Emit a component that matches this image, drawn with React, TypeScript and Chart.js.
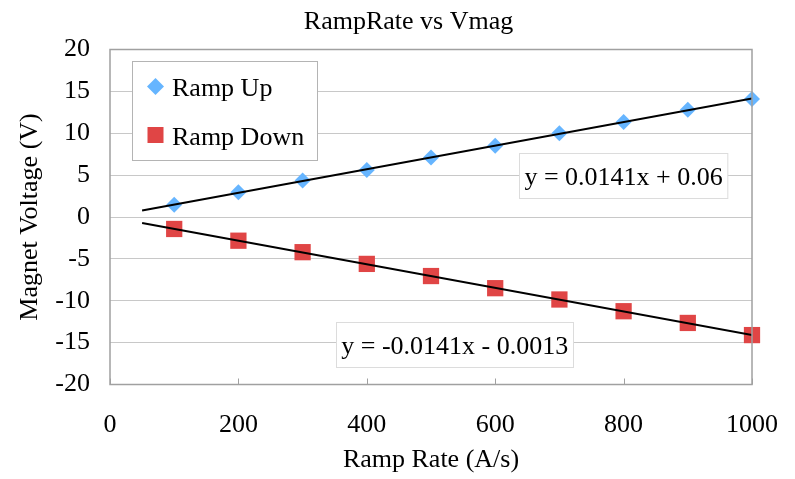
import React, { useEffect, useRef } from "react";
import { Chart, registerables } from "chart.js";

Chart.register(...registerables);

const chartTitle = "RampRate vs Vmag";
const xAxisTitle = "Ramp Rate (A/s)";
const yAxisTitle = "Magnet Voltage (V)";

const rampRates = [100, 200, 300, 400, 500, 600, 700, 800, 900, 1000];
const rampUp = [1.45, 2.95, 4.35, 5.6, 7.1, 8.5, 10.0, 11.35, 12.8, 14.1];
const rampDown = [-1.43, -2.83, -4.2, -5.6, -7.05, -8.5, -9.85, -11.25, -12.65, -14.1];

const trendX = [50, 1000];
const trendUp = [0.77, 14.16];
const trendDown = [-0.71, -14.1];

const eqUp = "y = 0.0141x + 0.06";
const eqDown = "y = -0.0141x - 0.0013";

const seriesNames = ["Ramp Up", "Ramp Down"];
const seriesColors = ["#66b5ff", "#e04545"];

const FONT = "'Times New Roman', 'Liberation Serif', serif";

const overlayPlugin = {
  id: "overlay",
  afterDraw(chart: any) {
    const { ctx, chartArea: a, scales } = chart;
    const xs = scales.x;
    const ys = scales.y;
    ctx.save();
    // inward tick marks on x axis
    ctx.strokeStyle = "#a0a0a0";
    ctx.lineWidth = 1;
    xs.ticks.forEach((t: any) => {
      const px = Math.round(xs.getPixelForValue(t.value)) + 0.5;
      ctx.beginPath();
      ctx.moveTo(px, a.bottom);
      ctx.lineTo(px, a.bottom - 6);
      ctx.stroke();
    });
    // plot frame
    ctx.strokeStyle = "#a0a0a0";
    ctx.lineWidth = 1.5;
    ctx.strokeRect(a.left, a.top, a.right - a.left, a.bottom - a.top);

    // legend box
    const lx = a.left + 22;
    const ly = a.top + 11.5;
    const lw = 185;
    const lh = 99;
    ctx.fillStyle = "#ffffff";
    ctx.fillRect(lx, ly, lw, lh);
    ctx.strokeStyle = "#b4b4b4";
    ctx.lineWidth = 1;
    ctx.strokeRect(lx + 0.5, ly + 0.5, lw, lh);
    ctx.font = `26px ${FONT}`;
    ctx.textBaseline = "alphabetic";
    ctx.textAlign = "left";
    const mx = lx + 23.5;
    const my1 = ly + 25.5;
    ctx.fillStyle = seriesColors[0];
    ctx.beginPath();
    ctx.moveTo(mx, my1 - 8.5);
    ctx.lineTo(mx + 8.5, my1);
    ctx.lineTo(mx, my1 + 8.5);
    ctx.lineTo(mx - 8.5, my1);
    ctx.closePath();
    ctx.fill();
    const my2 = ly + 74;
    ctx.fillStyle = seriesColors[1];
    ctx.fillRect(mx - 8, my2 - 8, 16, 16);
    ctx.fillStyle = "#000000";
    ctx.fillText(seriesNames[0], lx + 40, ly + 35);
    ctx.fillText(seriesNames[1], lx + 40, ly + 83.5);

    // equation labels
    const drawEq = (text: string, vx: number, vy: number) => {
      const cx = xs.getPixelForValue(vx);
      const cy = ys.getPixelForValue(vy);
      ctx.font = `26px ${FONT}`;
      const w = ctx.measureText(text).width + 10;
      const h = 45;
      ctx.fillStyle = "#ffffff";
      ctx.fillRect(cx - w / 2, cy - h / 2, w, h);
      ctx.strokeStyle = "#dcdcdc";
      ctx.lineWidth = 1;
      ctx.strokeRect(Math.round(cx - w / 2) + 0.5, Math.round(cy - h / 2) + 0.5, w, h);
      ctx.fillStyle = "#000000";
      ctx.textAlign = "center";
      ctx.textBaseline = "alphabetic";
      ctx.fillText(text, cx, cy + 9);
    };
    drawEq(eqUp, 800, 4.95);
    drawEq(eqDown, 537, -15.28);
    ctx.restore();
  },
};

export default function App() {
  const ref = useRef<HTMLCanvasElement | null>(null);
  useEffect(() => {
    if (!ref.current) return;
    const chart = new Chart(ref.current, {
      type: "scatter",
      data: {
        datasets: [
          {
            label: seriesNames[0],
            data: rampRates.map((x, i) => ({ x, y: rampUp[i] })),
            pointStyle: "rectRot",
            pointRadius: 8,
            backgroundColor: seriesColors[0],
            borderColor: seriesColors[0],
            borderWidth: 0,
            clip: false,
            order: 1,
          },
          {
            label: seriesNames[1],
            data: rampRates.map((x, i) => ({ x, y: rampDown[i] })),
            pointStyle: "rect",
            pointRadius: 11.5,
            backgroundColor: seriesColors[1],
            borderColor: seriesColors[1],
            borderWidth: 0,
            clip: false,
            order: 1,
          },
          {
            type: "line",
            label: "trendUp",
            data: trendX.map((x, i) => ({ x, y: trendUp[i] })),
            borderColor: "#000000",
            borderWidth: 2,
            pointRadius: 0,
            showLine: true,
            fill: false,
            order: 0,
          },
          {
            type: "line",
            label: "trendDown",
            data: trendX.map((x, i) => ({ x, y: trendDown[i] })),
            borderColor: "#000000",
            borderWidth: 2,
            pointRadius: 0,
            showLine: true,
            fill: false,
            order: 0,
          },
        ] as any,
      },
      options: {
        responsive: false,
        animation: false,
        layout: { padding: { left: 22, right: 0, top: 0, bottom: 0 } },
        plugins: {
          legend: { display: false },
          tooltip: { enabled: false },
          title: {
            display: true,
            text: chartTitle,
            color: "#000000",
            font: { family: FONT, size: 26, weight: "normal" },
            padding: { top: 7, bottom: 11.3 },
          },
        },
        scales: {
          x: {
            type: "linear",
            min: 0,
            max: 1000,
            ticks: {
              stepSize: 200,
              color: "#000000",
              font: { family: FONT, size: 26 },
              padding: 25,
              maxRotation: 0,
              callback: (v: any) => String(v),
            },
            grid: { display: false, drawTicks: false },
            border: { display: false },
            title: {
              display: true,
              text: xAxisTitle,
              color: "#000000",
              font: { family: FONT, size: 26 },
              padding: { top: 0, bottom: 3.4 },
            },
            afterFit(scale: any) {
              scale.height = 94.5;
              scale.paddingLeft = 0;
              scale.paddingRight = 0;
            },
          },
          y: {
            type: "linear",
            min: -20,
            max: 20,
            ticks: {
              stepSize: 5,
              color: "#000000",
              font: { family: FONT, size: 26 },
              padding: 20,
            },
            grid: { color: "#c8c8c8", lineWidth: 1, drawTicks: false },
            border: { display: false },
            title: {
              display: true,
              text: yAxisTitle,
              color: "#000000",
              font: { family: FONT, size: 26 },
              padding: { top: -7.6, bottom: 0 },
            },
            afterFit(scale: any) {
              scale.width = 88;
              scale.paddingTop = 0;
              scale.paddingBottom = 0;
            },
          },
          y2: {
            type: "linear",
            position: "right",
            display: true,
            min: -20,
            max: 20,
            ticks: { display: false },
            grid: { display: false, drawTicks: false },
            border: { display: false },
            afterFit(scale: any) {
              scale.width = 43;
              scale.paddingTop = 0;
              scale.paddingBottom = 0;
            },
          },
        },
      } as any,
      plugins: [overlayPlugin],
    });
    return () => chart.destroy();
  }, []);
  return (
    <div style={{ position: "fixed", left: 0, top: 0, width: 795, height: 479, background: "#ffffff" }}>
      <canvas ref={ref} width={795} height={479} />
    </div>
  );
}
